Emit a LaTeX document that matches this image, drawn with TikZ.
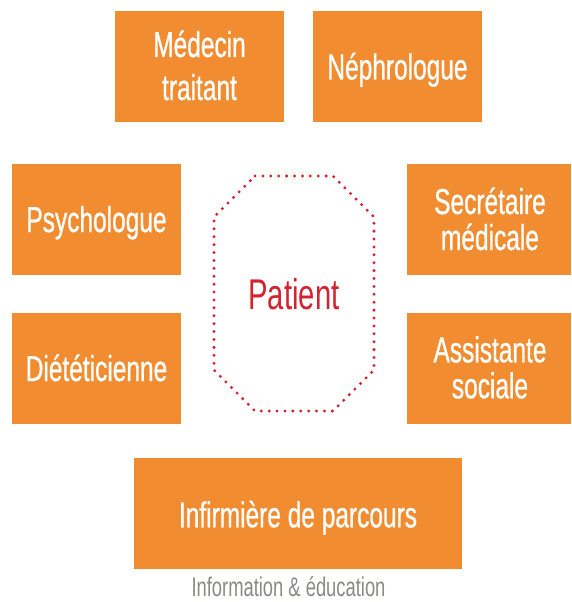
\documentclass[tikz,border=0pt]{standalone}
\usepackage{fontspec}
\setmainfont{Liberation Sans}[FakeStretch=0.68, FakeBold=0.8]
\newfontfamily\notefont{Liberation Sans}[FakeStretch=0.68]
\definecolor{boxorange}{HTML}{F28C30}
\definecolor{patred}{HTML}{D2232F}
\definecolor{notegray}{HTML}{8A8A84}
\begin{document}
\begin{tikzpicture}[x=1pt,y=-1pt,
  role/.style={rectangle, fill=boxorange, draw=none, inner sep=0pt,
               minimum width=169pt, minimum height=111pt},
  rolelabel/.style={text=white, font=\fontsize{36}{36}\selectfont,
                    align=center, anchor=base, inner sep=0pt},
  octline/.style={draw=patred, line width=3.3pt, line cap=round,
                  dash pattern=on 0pt off 7.9pt},
  patlabel/.style={text=patred, font=\notefont\fontsize{43}{43}\selectfont,
                   anchor=base, inner sep=0pt},
  note/.style={text=notegray, font=\notefont\fontsize{27}{27}\selectfont,
               anchor=base, inner sep=0pt}]
\useasboundingbox (0,0) rectangle (571,602);

% orange role boxes
\node[role] (med) at (199.5,66.5) {};
\node[role] (nep) at (397.5,66.5) {};
\node[role] (psy) at (96.5,219.5) {};
\node[role, minimum width=164pt] (sec) at (489,219.5) {};
\node[role] (die) at (96.5,368.5) {};
\node[role, minimum width=164pt] (ass) at (489,368.5) {};
\node[role, minimum width=328pt] (inf) at (298,513.5) {};

% labels, placed by their last baseline
\node[rolelabel] (medT) at (199.5,100) {Médecin\\[7pt]traitant};
\node[rolelabel] (nepT) at (397.5,79.4) {Néphrologue};
\node[rolelabel] (psyT) at (96.5,232) {Psychologue};
\node[rolelabel] (secT) at (490,250) {Secrétaire\\médicale};
\node[rolelabel] (dieT) at (96.5,381) {Diététicienne};
\node[rolelabel] (assT) at (490,398.3) {Assistante\\sociale};
\node[rolelabel] (infT) at (298,527.3) {Infirmière de parcours};

% patient in the centre, with its dotted octagon
\node[patlabel] (pat) at (294,309) {Patient};
\coordinate (o1) at (255,176);
\coordinate (o2) at (333,176);
\coordinate (o3) at (374,217);
\coordinate (o4) at (374,370);
\coordinate (o5) at (333,411);
\coordinate (o6) at (255,411);
\coordinate (o7) at (214,370);
\coordinate (o8) at (214,217);
\draw[octline] (o1) -- (o2) -- (o3) -- (o4) -- (o5) -- (o6) -- (o7) -- (o8) -- cycle;

% caption under the nurse box
\node[note] (info) at (288.5,596) {Information \& éducation};
\end{tikzpicture}
\end{document}
